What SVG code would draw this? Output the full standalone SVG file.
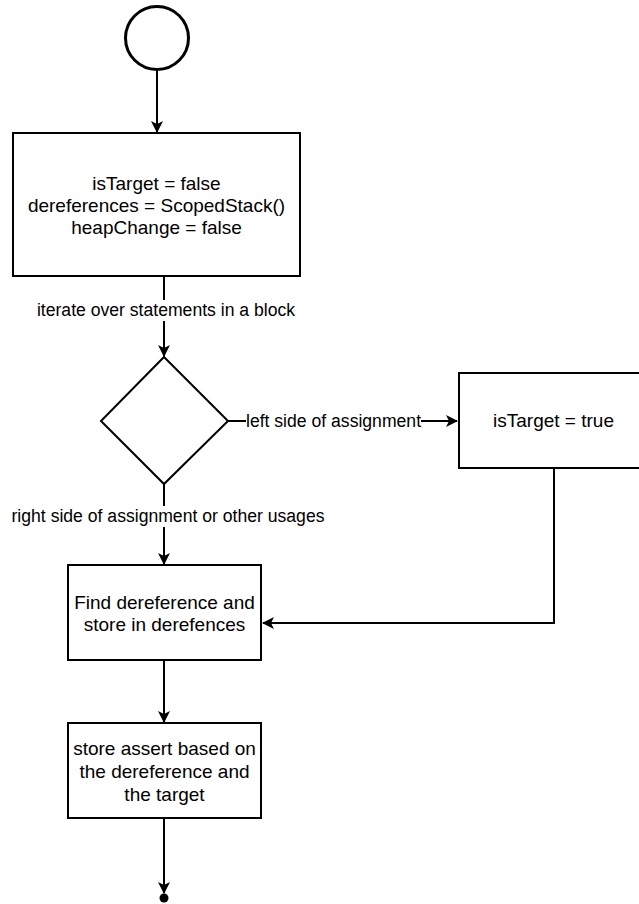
<svg xmlns="http://www.w3.org/2000/svg" width="639" height="904" viewBox="0 0 639 904">
<defs>
<style>
.shape{fill:#fff;stroke:#000;stroke-width:2}
.edge{fill:none;stroke:#000;stroke-width:2}
.t{font-family:"Liberation Sans",Arial,sans-serif;font-size:19px;fill:#000;text-anchor:middle}
.lbl{font-family:"Liberation Sans",Arial,sans-serif;font-size:17.6px;fill:#000;text-anchor:middle}
</style>
<marker id="arr" markerWidth="12" markerHeight="12" viewBox="0 0 12 12" refX="11" refY="6" orient="auto" markerUnits="userSpaceOnUse">
<path d="M0,0 L12,6 L0,12 L3,6 Z" fill="#000"/>
</marker>
</defs>
<g id="connectors">
<line class="edge" x1="157" y1="71" x2="157" y2="132" marker-end="url(#arr)"/>
<line class="edge" x1="164" y1="277" x2="164" y2="356" marker-end="url(#arr)"/>
<line class="edge" x1="228" y1="421" x2="457" y2="421" marker-end="url(#arr)"/>
<line class="edge" x1="164" y1="484" x2="164" y2="564" marker-end="url(#arr)"/>
<polyline class="edge" points="554,468 554,623 263,623" marker-end="url(#arr)"/>
<line class="edge" x1="164" y1="660" x2="164" y2="722" marker-end="url(#arr)"/>
<line class="edge" x1="164" y1="818" x2="164" y2="893" marker-end="url(#arr)"/>
<circle cx="164" cy="898" r="4.5" fill="#000"/>
<rect x="36" y="300" width="260" height="21" fill="#fff"/>
<text class="lbl" x="166" y="316">iterate over statements in a block</text>
<rect x="246" y="411" width="175" height="21" fill="#fff"/>
<text class="lbl" x="333.5" y="427">left side of assignment</text>
<rect x="11" y="506" width="314" height="21" fill="#fff"/>
<text class="lbl" x="168" y="522">right side of assignment or other usages</text>
</g>
<g id="start">
<circle cx="157" cy="38" r="31.5" fill="#fff" stroke="#000" stroke-width="3"/>
</g>
<g id="init">
<rect class="shape" x="13" y="133" width="287" height="143"/>
<text class="t" x="156.5" y="190">isTarget = false</text>
<text class="t" x="156.5" y="212">dereferences = ScopedStack()</text>
<text class="t" x="156.5" y="234">heapChange = false</text>
</g>
<g id="decision">
<polygon class="shape" points="164,357 228,421 164,484 101,421"/>
</g>
<g id="target">
<rect class="shape" x="459" y="373" width="190" height="95"/>
<text class="t" x="553.5" y="427">isTarget = true</text>
</g>
<g id="find">
<rect class="shape" x="68" y="565" width="193" height="95"/>
<text class="t" x="164.5" y="609">Find dereference and</text>
<text class="t" x="164.5" y="631">store in derefences</text>
</g>
<g id="assert">
<rect class="shape" x="68" y="723" width="193" height="95"/>
<text class="t" x="164.5" y="755">store assert based on</text>
<text class="t" x="164.5" y="778">the dereference and</text>
<text class="t" x="164.5" y="801">the target</text>
</g>
</svg>
